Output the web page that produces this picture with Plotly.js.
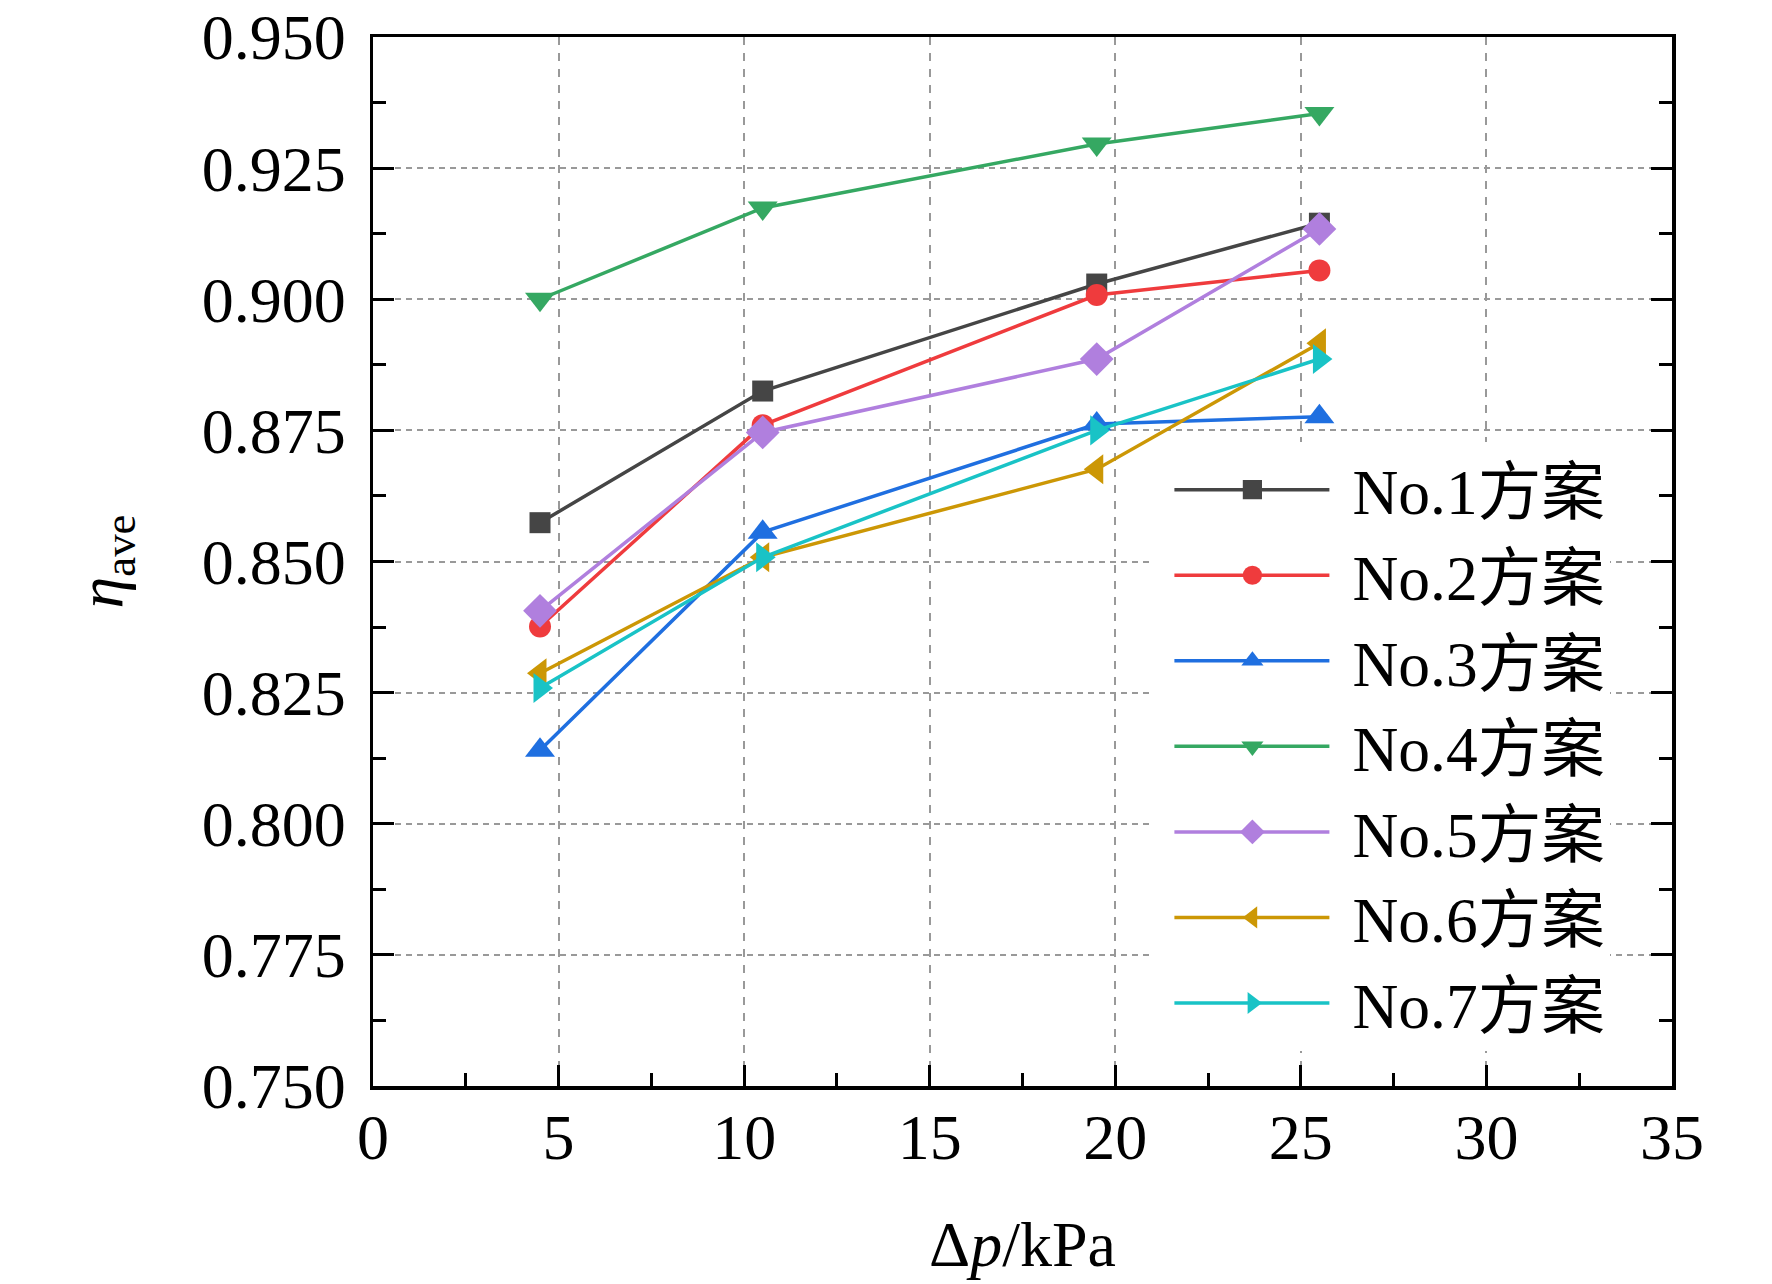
<!DOCTYPE html>
<html>
<head>
<meta charset="utf-8">
<script src="https://cdn.plot.ly/plotly-3.0.1.min.js"></script>
<style>
  html, body { margin: 0; padding: 0; background: #fff; }
  #chart { width: 1772px; height: 1284px; }
</style>
</head>
<body>
<div id="chart"></div>
<script>
const PRESSURE = [4.5, 10.5, 19.5, 25.5];

const SCHEME_NAMES = ["No.1方案", "No.2方案", "No.3方案", "No.4方案", "No.5方案", "No.6方案", "No.7方案"];

const ETA_NO1 = [0.8574, 0.8825, 0.9029, 0.9145];
const ETA_NO2 = [0.8376, 0.8760, 0.9008, 0.9055];
const ETA_NO3 = [0.8140, 0.8556, 0.8762, 0.8776];
const ETA_NO4 = [0.9000, 0.9174, 0.9296, 0.9354];
const ETA_NO5 = [0.8406, 0.8746, 0.8886, 0.9134];
const ETA_NO6 = [0.8287, 0.8508, 0.8676, 0.8916];
const ETA_NO7 = [0.8259, 0.8508, 0.8750, 0.8886];

const X_TICKS = [0, 5, 10, 15, 20, 25, 30, 35];
const Y_TICKS = [0.75, 0.775, 0.8, 0.825, 0.85, 0.875, 0.9, 0.925, 0.95];

const SERIES_STYLE = [
  { color: "#454545", symbol: "square", size: 21 },
  { color: "#ef3b3d", symbol: "circle", size: 22 },
  { color: "#1f6fe0", symbol: "triangle-up", size: 26 },
  { color: "#35a862", symbol: "triangle-down", size: 26 },
  { color: "#b07fde", symbol: "diamond", size: 26 },
  { color: "#cc9705", symbol: "triangle-left", size: 26 },
  { color: "#19c3c6", symbol: "triangle-right", size: 26 },
];

const SERIF = "Liberation Serif, Times New Roman, Noto Sans CJK SC, serif";
const LEGEND_ITEM_WIDTH = 190;

const etaSeries = [ETA_NO1, ETA_NO2, ETA_NO3, ETA_NO4, ETA_NO5, ETA_NO6, ETA_NO7];

const traces = etaSeries.map((values, i) => ({
  type: "scatter",
  mode: "lines+markers",
  name: SCHEME_NAMES[i],
  legendgroup: "g" + i,
  x: PRESSURE,
  y: values,
  line: { color: SERIES_STYLE[i].color, width: 3.5 },
  marker: { color: SERIES_STYLE[i].color, symbol: SERIES_STYLE[i].symbol, size: SERIES_STYLE[i].size },
  hoverinfo: "skip",
}));

const axisBase = {
  showline: true,
  linecolor: "#000",
  linewidth: 3.5,
  ticks: "inside",
  ticklen: 21,
  tickwidth: 3,
  tickcolor: "#000",
  zeroline: false,
  showgrid: true,
  gridcolor: "#999999",
  gridwidth: 2,
  ticklabeloverflow: "allow",
  tickfont: { family: SERIF, size: 64, color: "#000" },
  automargin: false,
};

const layout = {
  width: 1772,
  height: 1284,
  margin: { l: 373, r: 100, t: 37, b: 198 },
  paper_bgcolor: "#fff",
  plot_bgcolor: "#fff",
  font: { family: SERIF, color: "#000" },
  showlegend: true,
  xaxis: {
    ...axisBase,
    range: [0, 35],
    tickvals: X_TICKS,
    ticktext: X_TICKS.map(String),
    griddash: "8px,8px",
    mirror: true,
    ticklabelstandoff: -7,
    minor: { ticks: "inside", ticklen: 13, tickwidth: 3, tickcolor: "#000", dtick: 2.5, tick0: 0, showgrid: false },
    title: { text: "Δ<i>p</i>/kPa", font: { family: SERIF, size: 64, color: "#000" }, standoff: 50 },
  },
  yaxis: {
    ...axisBase,
    range: [0.75, 0.95],
    tickvals: Y_TICKS,
    ticktext: Y_TICKS.map((v) => v.toFixed(3)),
    griddash: "6px,5px",
    mirror: "ticks",
    ticklabelstandoff: 11,
    minor: { ticks: "inside", ticklen: 13, tickwidth: 3, tickcolor: "#000", dtick: 0.0125, tick0: 0.75, showgrid: false },
    title: { text: "<i>η</i><sub>ave</sub>", font: { family: SERIF, size: 64, color: "#000" }, standoff: 59 },
  },
  legend: {
    x: 0.6,
    y: 0.614,
    xanchor: "left",
    yanchor: "top",
    bgcolor: "#fff",
    borderwidth: 0,
    itemwidth: LEGEND_ITEM_WIDTH,
    tracegroupgap: 0,
    font: { family: SERIF, size: 63.5, color: "#000" },
  },
};

// stretch the legend key lines so they run on both sides of the marker
function stretchLegendKeys(gd) {
  const center = (LEGEND_ITEM_WIDTH + 10) / 2;
  gd.querySelectorAll(".legend .traces").forEach((item) => {
    item.querySelectorAll("path.js-line").forEach((p) => {
      p.setAttribute("d", `M${center - 78},0h155`);
    });
    item.querySelectorAll("path.scatterpts").forEach((p) => {
      p.setAttribute("transform", `translate(${center},0) scale(1.2)`);
    });
  });
}

Plotly.newPlot("chart", traces, layout, { displayModeBar: false, staticPlot: true }).then(stretchLegendKeys);
</script>
</body>
</html>
